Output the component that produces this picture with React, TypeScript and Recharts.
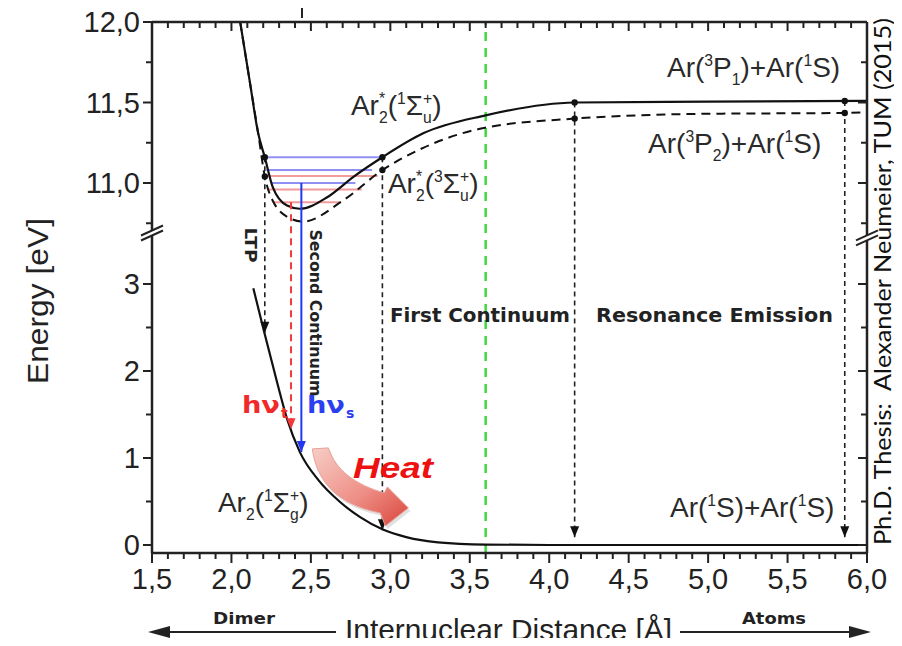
import React from "react"
import { LineChart, Line, XAxis, YAxis, ReferenceLine, ReferenceDot, Label } from "recharts"

const W = 902
const H = 646

// ---- data (energies in eV, distances in Å) ----
const groundX = [2.138, 2.21, 2.29, 2.35, 2.43, 2.55, 2.68, 2.81, 2.95, 3.1, 3.3, 3.6, 4.0, 5.0, 6.0]
const groundE = [2.95, 2.42, 1.85, 1.45, 1.07, 0.74, 0.5, 0.32, 0.18, 0.09, 0.03, 0.005, 0, 0, 0]

const singletX = [2.055, 2.117, 2.168, 2.21, 2.26, 2.35, 2.43, 2.6, 2.77, 2.95, 3.21, 3.6, 4.16, 5.0, 6.0]
const singletE = [12.0, 11.62, 11.31, 11.16, 10.975, 10.86, 10.84, 10.91, 11.04, 11.16, 11.31, 11.42, 11.5, 11.505, 11.51]

const tripletX = [2.055, 2.117, 2.168, 2.21, 2.26, 2.37, 2.45, 2.7, 2.95, 3.21, 3.58, 4.16, 5.0, 5.86, 6.0]
const tripletE = [12.0, 11.62, 11.31, 11.04, 10.89, 10.78, 10.76, 10.89, 11.08, 11.22, 11.34, 11.4, 11.43, 11.435, 11.44]

// vertical dashed transitions
const dropX = [2.21, 2.95, 4.16, 5.86]
const dropTopE = [11.16, 11.16, 11.5, 11.51]
const dropMidE = [11.04, 11.08, 11.4, 11.435]
const dropEndE = [2.44, 0.17, 0.09, 0.09]

// photon emission (triplet red, singlet blue)
const emitX = [2.375, 2.44]
const emitTopE = [10.88, 11.0]
const emitEndE = [1.33, 1.07]

// vibrational levels
const levelE = [11.16, 11.08, 11.0, 11.043, 10.96, 10.88]
const levelX0 = [2.21, 2.22, 2.255, 2.22, 2.23, 2.26]
const levelX1 = [2.95, 2.885, 2.78, 2.92, 2.82, 2.68]
const levelKind = ["s", "s", "s", "t", "t", "t"]

// axes
const xMajor = [1.5, 2, 2.5, 3, 3.5, 4, 4.5, 5, 5.5, 6]
const xLabels = ["1,5", "2,0", "2,5", "3,0", "3,5", "4,0", "4,5", "5,0", "5,5", "6,0"]
const yMajorE = [0, 1, 2, 3, 11.0, 11.5, 12.0]
const yLabels = ["0", "1", "2", "3", "11,0", "11,5", "12,0"]
const yMinorE = [0.5, 1.5, 2.5, 10.75, 11.25, 11.75]

// broken axis: lower panel 0..3.6 eV, upper panel 10.7..12 eV
const toD = (e: number) => (e < 6 ? e : 4.161 + 1.8506 * (e - 11))
const Y_MIN = -0.092
const Y_MAX = toD(12.0)

const pts = (xs: number[], es: number[]) => xs.map((x, i) => ({ x, y: toD(es[i]) }))

const xMinor = xMajor.slice(0, -1).flatMap((m) => [1, 2, 3, 4].map((k) => +(m + k * 0.1).toFixed(2)))
const xTicks = [...xMajor, ...xMinor].sort((a, b) => a - b)
const yMajorD = yMajorE.map(toD)
const yTicks = [...yMajorE, ...yMinorE].map(toD).sort((a, b) => a - b)

const INK = "#222"
const SANS = "Liberation Sans, Arial, sans-serif"
const BOLD = "DejaVu Sans, Verdana, sans-serif"

const majorIdx = (arr: number[], v: number) => arr.findIndex((m) => Math.abs(m - v) < 1e-6)

function BottomTick(p: any) {
  const { x, y, payload } = p
  const i = majorIdx(xMajor, payload.value)
  return (
    <g>
      <line x1={x} x2={x} y1={y} y2={y + (i >= 0 ? 10 : 6)} stroke={INK} strokeWidth={2} />
      {i >= 0 && (
        <text x={x} y={y + 36} textAnchor="middle" fontSize={29} fontFamily={SANS} fill={INK}>
          {xLabels[i]}
        </text>
      )}
    </g>
  )
}

function TopTick(p: any) {
  const { x, y, payload } = p
  const major = majorIdx(xMajor, payload.value) >= 0
  return <line x1={x} x2={x} y1={y} y2={y + (major ? 9 : 6)} stroke={INK} strokeWidth={2} />
}

function LeftTick(p: any) {
  const { x, y, payload } = p
  const i = majorIdx(yMajorD, payload.value)
  return (
    <g>
      <line x1={x - (i >= 0 ? 9 : 6)} x2={x} y1={y} y2={y} stroke={INK} strokeWidth={2} />
      {i >= 0 && (
        <text x={x - 12} y={y} dy="0.36em" textAnchor="end" fontSize={29} fontFamily={SANS} fill={INK}>
          {yLabels[i]}
        </text>
      )}
    </g>
  )
}

function RightTick(p: any) {
  const { x, y, payload } = p
  const major = majorIdx(yMajorD, payload.value) >= 0
  return <line x1={x - (major ? 9 : 6)} x2={x} y1={y} y2={y} stroke={INK} strokeWidth={2} />
}

const BottomLabel = (p: any) => {
  const vb = p.viewBox || { x: 152, y: 553, width: 715 }
  const ay = vb.y + 79
  const l = vb.x
  const r = vb.x + vb.width
  return (
    <g>
      <line x1={l} x2={l + 184} y1={ay} y2={ay} stroke={INK} strokeWidth={2} />
      <path d={`M${l - 4},${ay} L${l + 18},${ay - 6} L${l + 18},${ay + 6} Z`} fill={INK} />
      <line x1={l + 528} x2={r} y1={ay} y2={ay} stroke={INK} strokeWidth={2} />
      <path d={`M${r + 4},${ay} L${r - 18},${ay - 6} L${r - 18},${ay + 6} Z`} fill={INK} />
      <text x={l + 193} y={vb.y + 87} fontSize={29} fontFamily={SANS} fill={INK} textLength={327} lengthAdjust="spacingAndGlyphs">
        Internuclear Distance [Å]
      </text>
      <text x={l + 61} y={vb.y + 71} fontSize={16} fontWeight="bold" fontFamily={BOLD} fill={INK} textLength={62} lengthAdjust="spacingAndGlyphs">
        Dimer
      </text>
      <text x={l + 590} y={vb.y + 71} fontSize={16} fontWeight="bold" fontFamily={BOLD} fill={INK} textLength={64} lengthAdjust="spacingAndGlyphs">
        Atoms
      </text>
    </g>
  )
}

const EnergyLabel = (p: any) => {
  const vb = p.viewBox || { x: 32, y: 22 }
  const cx = vb.x + 16
  const cy = vb.y + 279
  return (
    <text x={cx} y={cy} transform={`rotate(-90 ${cx} ${cy})`} textAnchor="middle" fontSize={30} fontFamily={SANS} fill={INK} textLength={166} lengthAdjust="spacingAndGlyphs">
      Energy [eV]
    </text>
  )
}

const CreditLabel = (p: any) => {
  const vb = p.viewBox || { x: 867, y: 22 }
  const cx = vb.x + 24
  const cy = vb.y + 259.5
  return (
    <text x={cx} y={cy} transform={`rotate(-90 ${cx} ${cy})`} textAnchor="middle" fontSize={24} fontFamily="Lato, Open Sans, sans-serif" fill="#111" textLength={527} lengthAdjust="spacingAndGlyphs" style={{ whiteSpace: "pre" }}>
      {"Ph.D. Thesis:  Alexander Neumeier, TUM (2015)"}
    </text>
  )
}

type Part = string | { sup?: string; sub?: string }
const GW: Record<string, number> = { "1": 0.556, "2": 0.556, "3": 0.556, "+": 0.584, "*": 0.389, u: 0.556, g: 0.556 }
const gw = (s: string) => s.split("").reduce((a, c) => a + (GW[c] ?? 0.556), 0)

function Chem({ x, y, parts, fs = 28 }: { x: number; y: number; parts: Part[]; fs?: number }) {
  const small = fs * 0.56
  const supDy = -fs * 0.38
  const subDy = fs * 0.3
  let off = 0
  let pend = 0
  const spans: React.ReactElement[] = []
  parts.forEach((p, i) => {
    if (typeof p === "string") {
      spans.push(
        <tspan key={i} dx={pend} dy={-off} fontSize={fs}>
          {p}
        </tspan>
      )
      off = 0
      pend = 0
    } else {
      const subW = p.sub ? gw(p.sub) * small : 0
      const supW = p.sup ? gw(p.sup) * small : 0
      if (p.sub) {
        spans.push(
          <tspan key={i + "b"} dx={pend} dy={subDy - off} fontSize={small}>
            {p.sub}
          </tspan>
        )
        off = subDy
        pend = 0
      }
      if (p.sup) {
        spans.push(
          <tspan key={i + "p"} dx={p.sub ? -subW : pend} dy={supDy - off} fontSize={small}>
            {p.sup}
          </tspan>
        )
        off = supDy
        pend = 0
      }
      if (p.sub && p.sup) pend = Math.max(0, subW - supW)
    }
  })
  return (
    <text x={x} y={y} fill="#2a2a2a" fontFamily={SANS}>
      {spans}
    </text>
  )
}

const chemAt = (parts: Part[]) => (p: any) => <Chem x={p.cx} y={p.cy} parts={parts} />

const endDot = (color: string, last: number, junction: boolean) => (p: any) => {
  const { cx, cy, index } = p
  if (index === last)
    return <path key={"d" + index} d={`M${cx},${cy} L${cx - 4.5},${cy - 11} L${cx + 4.5},${cy - 11} Z`} fill={color} />
  if (junction) return <circle key={"d" + index} cx={cx} cy={cy} r={3.2} fill="#111" />
  return <g key={"d" + index} />
}

const breakMark = (p: any) => {
  const { cx, cy } = p
  return (
    <g>
      <path d={`M${cx - 10},${cy + 2} L${cx + 10},${cy - 7} L${cx + 10},${cy - 2} L${cx - 10},${cy + 7} Z`} fill="#fff" />
      <line x1={cx - 11} y1={cy + 2.5} x2={cx + 11} y2={cy - 7.5} stroke={INK} strokeWidth={2} />
      <line x1={cx - 11} y1={cy + 7.5} x2={cx + 11} y2={cy - 2.5} stroke={INK} strokeWidth={2} />
    </g>
  )
}

const heatArrow = (p: any) => {
  const { cx, cy } = p
  const P = (dx: number, dy: number) => `${cx + dx},${cy + dy}`
  const d = `M${P(11, -3)} C${P(15, 28)} ${P(34, 52)} ${P(79, 61)} L${P(84, 74)} L${P(107, 56)} L${P(86, 35)} L${P(83, 41)} C${P(54, 33)} ${P(34, 18)} ${P(27, -4)} Z`
  return (
    <g>
      <defs>
        <linearGradient id="heatGrad" x1="0" y1="0" x2="1" y2="1">
          <stop offset="0%" stopColor="#f7cdc6" />
          <stop offset="55%" stopColor="#ee8f86" />
          <stop offset="100%" stopColor="#d9453b" />
        </linearGradient>
      </defs>
      <path d={d} fill="#000" opacity={0.12} transform="translate(2,3)" />
      <path d={d} fill="url(#heatGrad)" stroke="#e8a098" strokeWidth={1} />
    </g>
  )
}

const textAt = (txt: string, opts: any) => (p: any) => {
  const { cx, cy } = p
  const { rotate, ...rest } = opts
  return (
    <text x={cx} y={cy} transform={rotate ? `rotate(${rotate} ${cx} ${cy})` : undefined} {...rest}>
      {txt}
    </text>
  )
}

const photon = (main: string, sub: string, color: string, len: number) => (p: any) => {
  const { cx, cy } = p
  return (
    <g fill={color} fontFamily={BOLD} fontWeight="bold">
      <text x={cx} y={cy} fontSize={23} textLength={len} lengthAdjust="spacingAndGlyphs">
        {main}
      </text>
      <text x={cx + len + 1} y={cy + 5} fontSize={14}>
        {sub}
      </text>
    </g>
  )
}

const strayMark = (p: any) => <line x1={p.cx} x2={p.cx} y1={p.cy - 15} y2={p.cy - 4} stroke={INK} strokeWidth={2} />

export default function App() {
  return (
    <div style={{ margin: -8, width: W, height: H, background: "#fff" }}>
      <LineChart width={W} height={H} margin={{ top: 17, right: 30, bottom: 5, left: 32 }}>
        <XAxis dataKey="x" type="number" domain={[1.5, 6]} allowDataOverflow ticks={xTicks} interval={0} tick={BottomTick} tickSize={0} tickMargin={0} tickLine={false} axisLine={{ stroke: INK, strokeWidth: 2.5 }} height={88}>
          <Label content={BottomLabel} />
        </XAxis>
        <XAxis xAxisId="top" orientation="top" dataKey="x" type="number" domain={[1.5, 6]} allowDataOverflow ticks={xTicks} interval={0} tick={TopTick} tickSize={0} tickMargin={0} tickLine={false} axisLine={{ stroke: INK, strokeWidth: 2.5 }} height={5} />
        <YAxis type="number" domain={[Y_MIN, Y_MAX]} allowDataOverflow ticks={yTicks} interval={0} tick={LeftTick} tickSize={0} tickMargin={0} tickLine={false} axisLine={{ stroke: INK, strokeWidth: 2.5 }} width={120}>
          <Label content={EnergyLabel} />
        </YAxis>
        <YAxis yAxisId="right" orientation="right" type="number" domain={[Y_MIN, Y_MAX]} allowDataOverflow ticks={yTicks} interval={0} tick={RightTick} tickSize={0} tickMargin={0} tickLine={false} axisLine={{ stroke: INK, strokeWidth: 2.5 }} width={5}>
          <Label content={CreditLabel} />
        </YAxis>

        <ReferenceLine x={3.6} stroke="#3fd83f" strokeWidth={2.5} strokeDasharray="9 7" />

        {levelE.map((e, i) => (
          <Line key={"lv" + i} data={pts([levelX0[i], levelX1[i]], [e, e])} dataKey="y" type="linear" stroke={levelKind[i] === "s" ? "#7d7df2" : "#f08a8a"} strokeOpacity={0.85} strokeWidth={2} dot={false} isAnimationActive={false} />
        ))}

        <Line data={pts(singletX, singletE)} dataKey="y" type="monotone" stroke="#111" strokeWidth={2.2} dot={false} isAnimationActive={false} />
        <Line data={pts(tripletX, tripletE)} dataKey="y" type="monotone" stroke="#111" strokeWidth={2} strokeDasharray="9 6" dot={false} isAnimationActive={false} />
        <Line data={pts(groundX, groundE)} dataKey="y" type="monotone" stroke="#111" strokeWidth={2.2} dot={false} isAnimationActive={false} />

        {dropX.map((x, i) => (
          <Line key={"dr" + i} data={pts([x, x, x], [dropTopE[i], dropMidE[i], dropEndE[i]])} dataKey="y" type="linear" stroke={INK} strokeWidth={1.6} strokeDasharray="5 4" dot={endDot("#111", 2, true)} isAnimationActive={false} />
        ))}

        <Line data={pts([emitX[0], emitX[0]], [emitTopE[0], emitEndE[0]])} dataKey="y" type="linear" stroke="#f23a3a" strokeWidth={2} strokeDasharray="7 5" dot={endDot("#f23a3a", 1, false)} isAnimationActive={false} />
        <Line data={pts([emitX[1], emitX[1]], [emitTopE[1], emitEndE[1]])} dataKey="y" type="linear" stroke="#2038f0" strokeWidth={2} dot={endDot("#2038f0", 1, false)} isAnimationActive={false} />

        <ReferenceDot x={1.5} y={3.586} r={0} ifOverflow="visible" shape={breakMark} />
        <ReferenceDot x={6.0} y={3.53} r={0} ifOverflow="visible" shape={breakMark} />
        <ReferenceDot x={2.444} y={toD(12.0)} r={0} ifOverflow="visible" shape={strayMark} />

        <ReferenceDot x={2.44} y={toD(1.07)} r={0} ifOverflow="visible" shape={heatArrow} />

        <ReferenceDot x={2.752} y={toD(11.422)} r={0} ifOverflow="visible" shape={chemAt(["Ar", { sub: "2", sup: "*" }, "(", { sup: "1" }, "Σ", { sup: "+", sub: "u" }, ")"])} />
        <ReferenceDot x={2.985} y={toD(10.938)} r={0} ifOverflow="visible" shape={chemAt(["Ar", { sub: "2", sup: "*" }, "(", { sup: "3" }, "Σ", { sup: "+", sub: "u" }, ")"])} />
        <ReferenceDot x={4.741} y={toD(11.658)} r={0} ifOverflow="visible" shape={chemAt(["Ar(", { sup: "3" }, "P", { sub: "1" }, ")+Ar(", { sup: "1" }, "S)"])} />
        <ReferenceDot x={4.622} y={toD(11.186)} r={0} ifOverflow="visible" shape={chemAt(["Ar(", { sup: "3" }, "P", { sub: "2" }, ")+Ar(", { sup: "1" }, "S)"])} />
        <ReferenceDot x={1.915} y={toD(0.379)} r={0} ifOverflow="visible" shape={chemAt(["Ar", { sub: "2" }, "(", { sup: "1" }, "Σ", { sup: "+", sub: "g" }, ")"])} />
        <ReferenceDot x={4.76} y={toD(0.322)} r={0} ifOverflow="visible" shape={chemAt(["Ar(", { sup: "1" }, "S)+Ar(", { sup: "1" }, "S)"])} />

        <ReferenceDot x={3.564} y={toD(2.563)} r={0} ifOverflow="visible" shape={textAt("First Continuum", { textAnchor: "middle", fontSize: 20, fontWeight: "bold", fontFamily: BOLD, fill: INK, textLength: 180, lengthAdjust: "spacingAndGlyphs" })} />
        <ReferenceDot x={5.04} y={toD(2.563)} r={0} ifOverflow="visible" shape={textAt("Resonance Emission", { textAnchor: "middle", fontSize: 20, fontWeight: "bold", fontFamily: BOLD, fill: INK, textLength: 237, lengthAdjust: "spacingAndGlyphs" })} />
        <ReferenceDot x={2.526} y={toD(2.667)} r={0} ifOverflow="visible" shape={textAt("Second Continuum", { rotate: 90, textAnchor: "middle", dominantBaseline: "central", fontSize: 15, fontWeight: "bold", fontFamily: BOLD, fill: INK, textLength: 167, lengthAdjust: "spacingAndGlyphs" })} />
        <ReferenceDot x={2.123} y={toD(3.448)} r={0} ifOverflow="visible" shape={textAt("LTP", { rotate: 90, textAnchor: "middle", dominantBaseline: "central", fontSize: 16, fontWeight: "bold", fontFamily: BOLD, fill: INK, textLength: 35, lengthAdjust: "spacingAndGlyphs" })} />
        <ReferenceDot x={2.066} y={toD(1.517)} r={0} ifOverflow="visible" shape={photon("hν", "t", "#f02a2a", 38)} />
        <ReferenceDot x={2.475} y={toD(1.517)} r={0} ifOverflow="visible" shape={photon("hν", "s", "#2a40f0", 38)} />
        <ReferenceDot x={2.765} y={toD(0.77)} r={0} ifOverflow="visible" shape={textAt("Heat", { fontSize: 30, fontWeight: "bold", fontStyle: "italic", fontFamily: SANS, fill: "#ee1111", textLength: 80, lengthAdjust: "spacingAndGlyphs" })} />
      </LineChart>
    </div>
  )
}
